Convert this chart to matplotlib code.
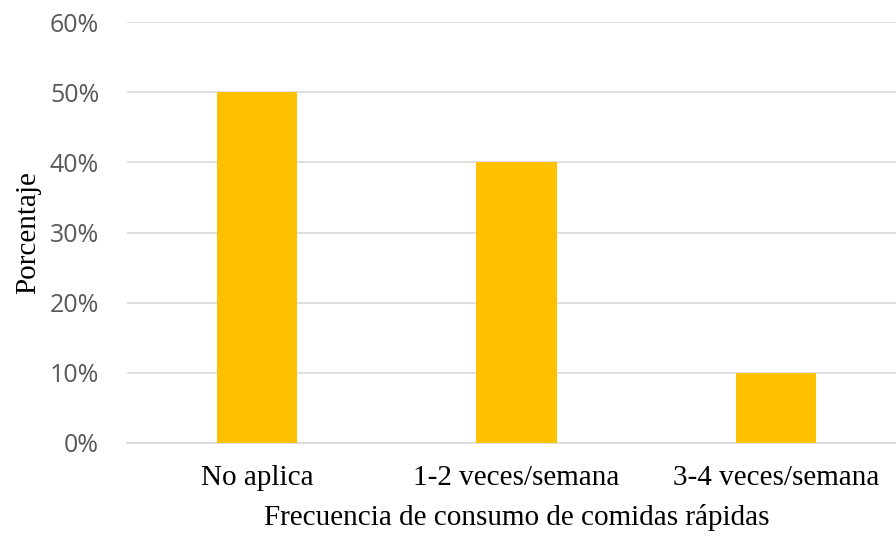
import matplotlib
matplotlib.use("Agg")
import matplotlib.pyplot as plt
from matplotlib.ticker import PercentFormatter

# Datos
categorias = ["No aplica", "1-2 veces/semana", "3-4 veces/semana"]
porcentajes = [50, 40, 10]
yticks = [0, 10, 20, 30, 40, 50, 60]

BAR_COLOR = "#FFC000"
GRID_COLOR = "#D9D9D9"
TICK_COLOR = "#595959"
SERIF = "Liberation Serif"
SANS = "Open Sans"

fig = plt.figure(figsize=(8.96, 5.36), dpi=100)
# axes goes a bit past the right border, like the original
ax = fig.add_axes([127 / 896, 93 / 536, 779 / 896, 421 / 536])

x = range(len(categorias))
ax.bar(x, porcentajes, width=0.31, color=BAR_COLOR, zorder=3)

ax.set_xlim(-0.5, 2.5)
ax.set_ylim(0, 60)
ax.set_yticks(yticks)
ax.yaxis.set_major_formatter(PercentFormatter(decimals=0))
ax.grid(axis="y", color=GRID_COLOR, linewidth=1.2, zorder=0)
ax.set_axisbelow(True)

for side in ["top", "right", "left"]:
    ax.spines[side].set_visible(False)
ax.spines["bottom"].set_color(GRID_COLOR)
ax.spines["bottom"].set_linewidth(1.2)

ax.tick_params(axis="both", length=0)
ax.tick_params(axis="y", pad=20, labelcolor=TICK_COLOR)
ax.tick_params(axis="x", pad=16)
for lab in ax.get_yticklabels():
    lab.set_fontfamily(SANS)
    lab.set_fontsize(18)

ax.set_xticks(list(x))
ax.set_xticklabels(categorias, fontfamily=SERIF, fontsize=21)

ax.set_xlabel("Frecuencia de consumo de comidas rápidas", fontfamily=SERIF,
              fontsize=21, labelpad=9)
ax.set_ylabel("Porcentaje", fontfamily=SERIF, fontsize=21, labelpad=6)

fig.savefig("out.png", dpi=100)
